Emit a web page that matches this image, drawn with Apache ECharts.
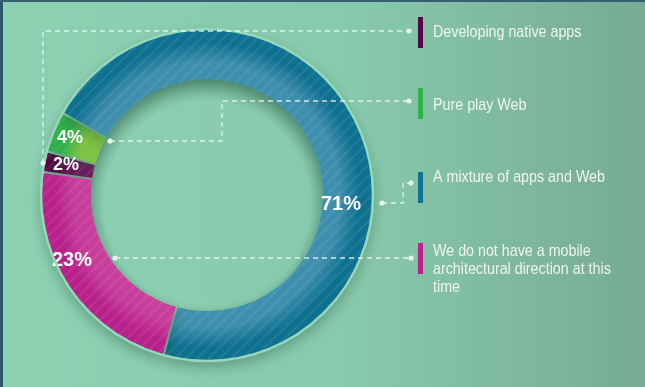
<!DOCTYPE html>
<html>
<head>
<meta charset="utf-8">
<script src="https://cdn.jsdelivr.net/npm/echarts@6/dist/echarts.min.js"></script>
<style>
  html, body { margin: 0; padding: 0; }
  #chart { width: 645px; height: 387px; }
</style>
</head>
<body>
<div id="chart"></div>
<script>
// Survey answers: mobile architectural direction
const categories = [
  'Developing native apps',
  'Pure play Web',
  'A mixture of apps and Web',
  'We do not have a mobile\narchitectural direction at this\ntime'
];
const values = [2, 4, 71, 23];
const darkColors = ['#560844', '#2fb24a', '#0f7393', '#bc218e'];
const lightColors = ['#701c5c', '#80c444', '#3f91b0', '#ca3f9d'];

const CX = 207, CY = 195, R_IN = 116, R_OUT = 166;

// where each percentage sits on the ring
const labelSpots = [[66, 165], [70, 138], [341, 204], [72, 260]];
const labelSizes = [18, 18, 20, 20];

// leader lines from the ring to the key
const leaders = [
  [[43, 163], [43, 31], [409, 31]],
  [[110, 141], [222, 141], [222, 101], [409, 101]],
  [[382, 203], [403, 203], [403, 183], [411, 183]],
  [[115, 258], [411, 258]]
];
const keyBarTops = [17, 88, 172, 243];
const keyTextY = [32, 105, 177, 251];

const chart = echarts.init(document.getElementById('chart'), null, { renderer: 'canvas' });

const pieData = categories.map((name, i) => ({
  name,
  value: values[i],
  itemStyle: {
    color: {
      type: 'radial', x: CX, y: CY, r: R_OUT, global: true,
      colorStops: [
        { offset: R_IN / R_OUT, color: lightColors[i] },
        { offset: 0.8, color: lightColors[i] },
        { offset: 0.92, color: darkColors[i] },
        { offset: 1, color: darkColors[i] }
      ]
    },
    decal: {
      symbol: 'rect',
      dashArrayX: [1, 0],
      dashArrayY: [2, 6],
      rotation: -Math.PI / 4,
      color: 'rgba(255,255,255,0.08)'
    }
  },
  label: { fontSize: labelSizes[i] }
}));

const graphics = [
  { type: 'rect', z: 100, shape: { x: 0, y: 0, width: 3, height: 387 }, style: { fill: '#2d5870' } },
  { type: 'rect', z: 100, shape: { x: 0, y: 0, width: 645, height: 2 }, style: { fill: '#375f72' } },
  // soft shade inside the hole, heavier along its upper edge
  {
    type: 'circle', z: 1, shape: { cx: CX, cy: CY, r: R_IN },
    style: {
      fill: {
        type: 'radial', x: CX, y: CY + 10, r: R_IN + 10, global: true,
        colorStops: [
          { offset: 0, color: 'rgba(30,90,65,0)' },
          { offset: 0.82, color: 'rgba(30,90,65,0)' },
          { offset: 1, color: 'rgba(30,90,65,0.32)' }
        ]
      }
    }
  },
  // light rim round the outside of the ring
  { type: 'circle', z: 5, shape: { cx: CX, cy: CY, r: R_OUT }, style: { fill: null, stroke: '#95d8ba', lineWidth: 2.5 } }
];

leaders.forEach((pts) => {
  graphics.push({
    type: 'polyline', z: 20, shape: { points: pts },
    style: { stroke: 'rgba(240,248,244,0.85)', lineWidth: 1.3, lineDash: [5, 4], fill: null }
  });
  [pts[0], pts[pts.length - 1]].forEach((p) => {
    graphics.push({
      type: 'circle', z: 21, shape: { cx: p[0], cy: p[1], r: 2.6 },
      style: { fill: '#e6f1ea' }
    });
  });
});

categories.forEach((name, i) => {
  graphics.push({
    type: 'rect', z: 20,
    shape: { x: 418, y: keyBarTops[i], width: 5, height: 31 },
    style: { fill: darkColors[i] }
  });
  const multi = name.indexOf('\n') >= 0;
  graphics.push({
    type: 'text', z: 20,
    x: 433, y: multi ? keyTextY[i] - 9 : keyTextY[i],
    scaleX: 0.84,
    style: {
      text: name,
      fill: '#eef5ef',
      font: '17px "Liberation Sans", Arial, sans-serif',
      verticalAlign: multi ? 'top' : 'middle',
      lineHeight: 18
    }
  });
});

chart.setOption({
  backgroundColor: {
    type: 'linear', x: 0, y: 0, x2: 1, y2: 0,
    colorStops: [
      { offset: 0, color: '#8dd1b3' },
      { offset: 0.55, color: '#87c9ac' },
      { offset: 1, color: '#77ab93' }
    ]
  },
  aria: { enabled: true, decal: { show: true } },
  animation: false,
  series: [{
    type: 'pie',
    center: [CX, CY],
    radius: [R_IN, R_OUT],
    startAngle: 172,
    clockwise: true,
    padAngle: 0.8,
    avoidLabelOverlap: false,
    data: pieData,
    itemStyle: {
      borderWidth: 0,
      shadowBlur: 14,
      shadowOffsetY: 6,
      shadowColor: 'rgba(20,70,50,0.35)'
    },
    label: {
      show: true,
      position: 'inside',
      formatter: '{c}%',
      color: '#ffffff',
      fontWeight: 'bold',
      fontFamily: '"Liberation Sans", Arial, sans-serif'
    },
    labelLine: { show: false },
    labelLayout: (params) => ({
      x: labelSpots[params.dataIndex][0],
      y: labelSpots[params.dataIndex][1],
      align: 'center',
      verticalAlign: 'middle'
    }),
    emphasis: { disabled: true }
  }],
  graphic: graphics
});
</script>
</body>
</html>
